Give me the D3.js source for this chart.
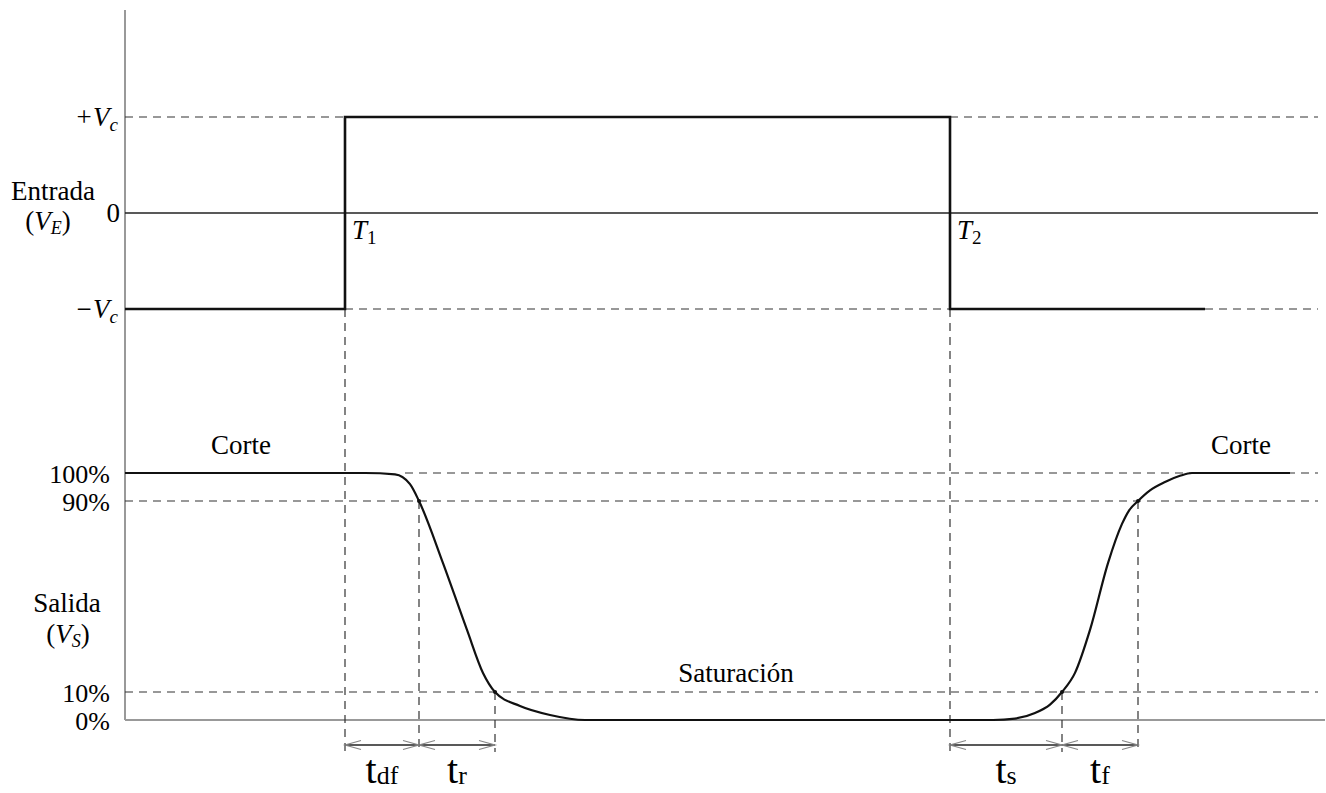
<!DOCTYPE html>
<html>
<head>
<meta charset="utf-8">
<script src="https://cdn.jsdelivr.net/npm/d3@7/dist/d3.min.js"></script>
<style>
  body { margin: 0; background: #fff; }
</style>
</head>
<body>
<div id="chart"></div>
<script>
// time instants (arbitrary units, 10 px each)
var T1 = 22, T2 = 82.5;
var tFall90 = 29.4, tFall10 = 37, tRise10 = 93.7, tRise90 = 101.3;
var inputEnd = 108, tEnd = 119.3;

// input levels
var inLevels = [1, 0, -1];
var inLabels = [["+V", "c"], ["0", ""], ["\u2212V", "c"]];
var inputWave = [[0, -1], [T1, -1], [T1, 1], [T2, 1], [T2, -1], [inputEnd, -1]];

// output levels (%)
var outTicks = [100, 90, 10, 0];
var outLabels = ["100%", "90%", "10%", "0%"];
var outT = [0, 24, 27, 28.5, 29.4, 31.8, 34.2, 35.8, 37, 39.5, 42.5, 46,
            86.8, 89, 91, 92.5, 93.7, 95, 96.5, 98.3, 99.7, 100.4, 101.3, 102.5, 104, 105.5, 106.7, 116.5];
var outV = [100, 100, 99.5, 96, 90, 64, 36, 18, 10, 5, 1.8, 0,
            0, 0.5, 2.5, 5.5, 10, 18, 36, 64, 80.4, 86, 90, 93.8, 96.8, 99, 100, 100];

var intervals = [
  {name: "t", sub: "df", from: T1, to: tFall90},
  {name: "t", sub: "r", from: tFall90, to: tFall10},
  {name: "t", sub: "s", from: T2, to: tRise10},
  {name: "t", sub: "f", from: tRise10, to: tRise90}
];

var serif = "'Liberation Serif'";

var width = 1326, height = 793;
var svg = d3.select("#chart").append("svg")
    .attr("width", width)
    .attr("height", height);

var x = d3.scaleLinear().domain([0, 120]).range([125, 1325]);
var yIn = d3.scaleLinear().domain([-1, 1]).range([309, 117]);
var yOut = d3.scaleLinear().domain([0, 10, 90, 100]).range([720, 692, 501, 473]);
var arrowY = 745, dashBottom = 752;

function txt(xp, yp, size, anchor) {
  return svg.append("text")
    .attr("x", xp).attr("y", yp)
    .attr("font-family", serif)
    .attr("text-anchor", anchor || "start")
    .style("font-size", size + "px");
}

var dash = "8,6";
function hdash(t0, t1, y) {
  svg.append("line")
    .attr("x1", x(t0)).attr("x2", x(t1))
    .attr("y1", y).attr("y2", y)
    .attr("stroke", "#333").attr("stroke-width", 1.2)
    .attr("stroke-dasharray", dash);
}
function vdash(t, y0, y1) {
  svg.append("line")
    .attr("x1", x(t)).attr("x2", x(t))
    .attr("y1", y0).attr("y2", y1)
    .attr("stroke", "#333").attr("stroke-width", 1.2)
    .attr("stroke-dasharray", dash);
}

// axes (gray)
svg.append("line")
  .attr("x1", x(0)).attr("x2", x(0)).attr("y1", 10).attr("y2", yOut(0))
  .attr("stroke", "#999").attr("stroke-width", 2);
svg.append("line")
  .attr("x1", x(0)).attr("x2", x(120)).attr("y1", yOut(0)).attr("y2", yOut(0))
  .attr("stroke", "#999").attr("stroke-width", 2);

// zero line of the input
svg.append("line")
  .attr("x1", x(0)).attr("x2", x(tEnd)).attr("y1", yIn(0)).attr("y2", yIn(0))
  .attr("stroke", "#222").attr("stroke-width", 1.3);

// guide lines
hdash(0, T1, yIn(1));
hdash(T2, tEnd, yIn(1));
hdash(T1, T2, yIn(-1));
hdash(inputEnd, tEnd, yIn(-1));
hdash(28, tEnd, yOut(100));
hdash(0, tEnd, yOut(90));
hdash(0, tEnd, yOut(10));
vdash(T1, yIn(-1), dashBottom);
vdash(T2, yIn(-1), dashBottom);
vdash(tFall90, yOut(90), dashBottom);
vdash(tFall10, yOut(10), dashBottom);
vdash(tRise10, yOut(10), dashBottom);
vdash(tRise90, yOut(90), dashBottom);

// input waveform
svg.append("path")
  .datum(inputWave)
  .attr("d", d3.line().x(function(d) { return x(d[0]); }).y(function(d) { return yIn(d[1]); }))
  .attr("fill", "none").attr("stroke", "#111").attr("stroke-width", 2.6);

// output waveform
var outData = outT.map(function(t, i) { return [t, outV[i]]; });
svg.append("path")
  .datum(outData)
  .attr("d", d3.line().curve(d3.curveMonotoneX)
    .x(function(d) { return x(d[0]); }).y(function(d) { return yOut(d[1]); }))
  .attr("fill", "none").attr("stroke", "#111").attr("stroke-width", 2.2);

// crossing dots
[[tFall90, 90], [tFall10, 10], [tRise10, 10], [tRise90, 90]].forEach(function(p) {
  svg.append("circle").attr("cx", x(p[0])).attr("cy", yOut(p[1])).attr("r", 2).attr("fill", "#111");
});

// interval arrows
intervals.forEach(function(d) {
  var x0 = x(d.from), x1 = x(d.to);
  svg.append("line")
    .attr("x1", x0).attr("x2", x1).attr("y1", arrowY).attr("y2", arrowY)
    .attr("stroke", "#222").attr("stroke-width", 1.3);
  svg.append("path")
    .attr("d", "M" + (x0 + 16) + "," + (arrowY - 4.5) + "L" + x0 + "," + arrowY + "L" + (x0 + 16) + "," + (arrowY + 4.5) +
               "M" + (x1 - 16) + "," + (arrowY - 4.5) + "L" + x1 + "," + arrowY + "L" + (x1 - 16) + "," + (arrowY + 4.5))
    .attr("fill", "none").attr("stroke", "#888").attr("stroke-width", 1.2);
  var lab = txt((x0 + x1) / 2, 783, 40, "middle");
  lab.append("tspan").text(d.name);
  lab.append("tspan").attr("dy", 1).style("font-size", "26px").text(d.sub);
});

// tick labels, input
inLevels.forEach(function(v, i) {
  var t = txt(i === 1 ? 120 : 118, yIn(v) + 9, 27, "end");
  t.append("tspan").style("font-style", i === 1 ? "normal" : "italic").text(inLabels[i][0]);
  if (inLabels[i][1]) t.append("tspan").attr("dy", 5).style("font-size", "19px").style("font-style", "italic").text(inLabels[i][1]);
});

// tick labels, output
outTicks.forEach(function(v, i) {
  txt(110, yOut(v) + 10, 26, "end").text(outLabels[i]);
});

// axis titles
txt(53, 200, 27, "middle").text("Entrada");
var ve = txt(48, 230, 27, "middle");
ve.append("tspan").text("(");
ve.append("tspan").style("font-style", "italic").text("V");
ve.append("tspan").attr("dy", 4).style("font-size", "18px").style("font-style", "italic").text("E");
ve.append("tspan").attr("dy", -4).text(")");

txt(67, 612, 27, "middle").text("Salida");
var vs = txt(68, 643, 27, "middle");
vs.append("tspan").text("(");
vs.append("tspan").style("font-style", "italic").text("V");
vs.append("tspan").attr("dy", 4).style("font-size", "18px").style("font-style", "italic").text("S");
vs.append("tspan").attr("dy", -4).text(")");

// region labels
txt(241, 454, 27, "middle").text("Corte");
txt(1241, 454, 27, "middle").text("Corte");
txt(736, 682, 27, "middle").text("Saturaci\u00f3n");

// transition instants
[[T1, "1"], [T2, "2"]].forEach(function(d) {
  var t = txt(x(d[0]) + 7, 239, 27);
  t.append("tspan").style("font-style", "italic").text("T");
  t.append("tspan").attr("dy", 5).style("font-size", "19px").text(d[1]);
});
</script>
</body>
</html>
